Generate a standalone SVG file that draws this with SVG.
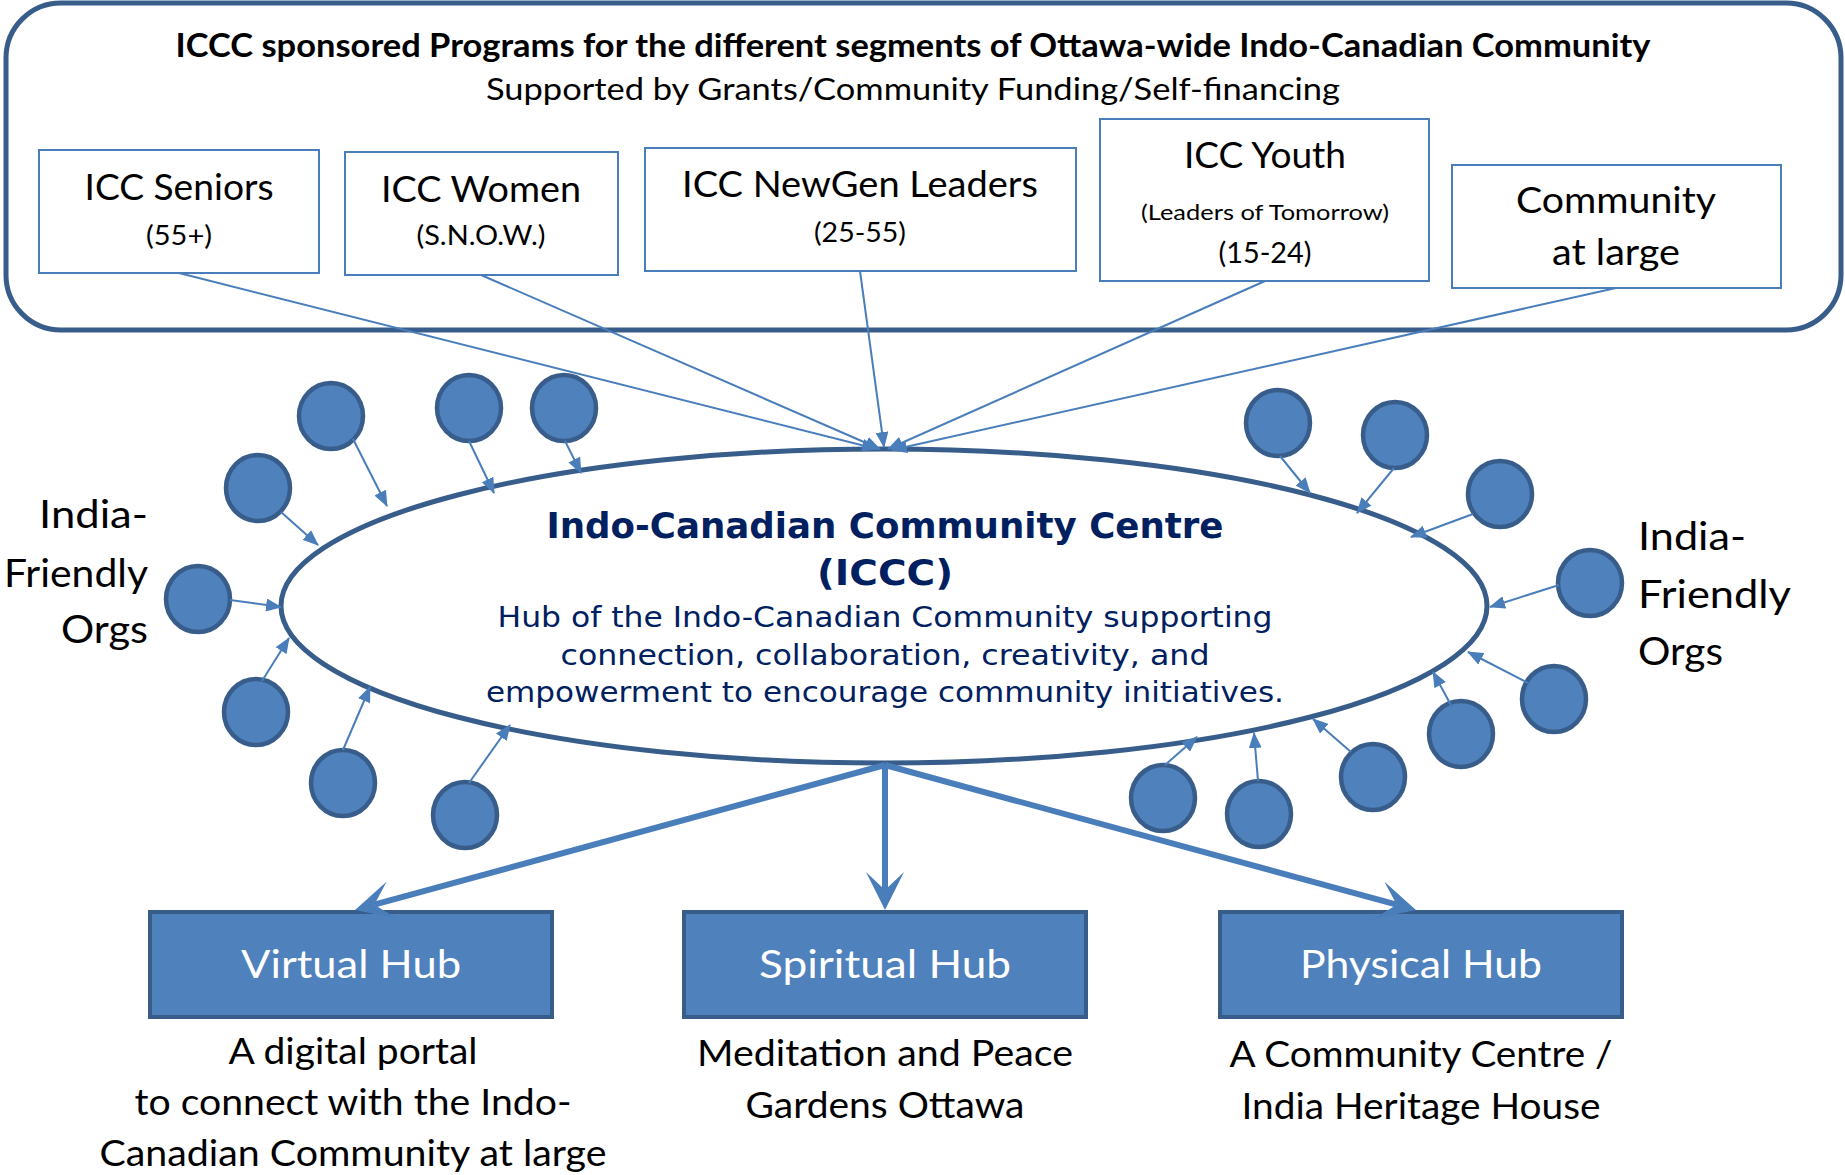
<svg xmlns="http://www.w3.org/2000/svg" width="1845" height="1175" viewBox="0 0 1845 1175">
<style>
.cal{font-family:Lato,"Liberation Sans",sans-serif;fill:#000}
.c{text-anchor:middle}
.gth{font-family:"DejaVu Sans","Liberation Sans",sans-serif;fill:#002060;text-anchor:middle}
.prog{fill:#fff;stroke:#4A7EBB;stroke-width:2}
.org{fill:#4F81BD;stroke:#385D8A;stroke-width:4.5}
.hub{fill:#4F81BD;stroke:#385D8A;stroke-width:4}
.thin{stroke:#4A7EBB;stroke-width:2;fill:none;marker-end:url(#ah)}
.thick{stroke:#4A7EBB;stroke-width:6;fill:none;marker-end:url(#big)}
.hubt{font-family:Lato,"Liberation Sans",sans-serif;fill:#fff;text-anchor:middle;font-size:39px}
</style>
<defs>
<marker id="ah" markerUnits="userSpaceOnUse" markerWidth="16" markerHeight="13" refX="15" refY="6.5" orient="auto">
<path d="M0,0 L16,6.5 L0,13 z" fill="#4A7EBB"/>
</marker>
<marker id="big" markerUnits="userSpaceOnUse" markerWidth="38" markerHeight="38" refX="18" refY="19" orient="auto">
<path d="M0,0 L38,19 L0,38 L18,19 z" fill="#4A7EBB"/>
</marker>
</defs>
<rect width="1845" height="1175" fill="#fff"/>

<g id="programs">
<rect x="6" y="3" width="1835" height="327" rx="55" ry="55" fill="#fff" stroke="#385D8A" stroke-width="5"/>
<text class="cal c" x="913" y="57" font-size="32" font-weight="bold" textLength="1475" lengthAdjust="spacingAndGlyphs">ICCC sponsored Programs for the different segments of Ottawa-wide Indo-Canadian Community</text>
<text class="cal c" x="913" y="100" font-size="30" textLength="854" lengthAdjust="spacingAndGlyphs">Supported by Grants/Community Funding/Self-financing</text>
</g>

<g id="seniors">
<rect class="prog" x="39" y="150" width="280" height="123"/>
<text class="cal c" x="179" y="200" font-size="36" textLength="189" lengthAdjust="spacingAndGlyphs">ICC Seniors</text>
<text class="cal c" x="179" y="245" font-size="26" textLength="66" lengthAdjust="spacingAndGlyphs">(55+)</text>
</g>
<g id="women">
<rect class="prog" x="345" y="152" width="273" height="123"/>
<text class="cal c" x="481" y="202" font-size="36" textLength="200" lengthAdjust="spacingAndGlyphs">ICC Women</text>
<text class="cal c" x="481" y="245" font-size="26" textLength="129" lengthAdjust="spacingAndGlyphs">(S.N.O.W.)</text>
</g>
<g id="newgen">
<rect class="prog" x="645" y="148" width="431" height="123"/>
<text class="cal c" x="860" y="197" font-size="36" textLength="356" lengthAdjust="spacingAndGlyphs">ICC NewGen Leaders</text>
<text class="cal c" x="860" y="242" font-size="26" textLength="92" lengthAdjust="spacingAndGlyphs">(25-55)</text>
</g>
<g id="youth">
<rect class="prog" x="1100" y="119" width="329" height="162"/>
<text class="cal c" x="1265" y="168" font-size="36" textLength="162" lengthAdjust="spacingAndGlyphs">ICC Youth</text>
<text class="cal c" x="1265" y="220" font-size="22" textLength="248" lengthAdjust="spacingAndGlyphs">(Leaders of Tomorrow)</text>
<text class="cal c" x="1265" y="263" font-size="28" textLength="93" lengthAdjust="spacingAndGlyphs">(15-24)</text>
</g>
<g id="community">
<rect class="prog" x="1452" y="165" width="329" height="123"/>
<text class="cal c" x="1616" y="213" font-size="36" textLength="200" lengthAdjust="spacingAndGlyphs">Community</text>
<text class="cal c" x="1616" y="265" font-size="36" textLength="128" lengthAdjust="spacingAndGlyphs">at large</text>
</g>

<g id="iccc">
<ellipse cx="884" cy="606" rx="603" ry="157" fill="#fff" stroke="#385D8A" stroke-width="5"/>
<text class="gth" x="885" y="538" font-size="36" font-weight="bold" textLength="677" lengthAdjust="spacingAndGlyphs">Indo-Canadian Community Centre</text>
<text class="gth" x="885" y="585" font-size="36" font-weight="bold" textLength="136" lengthAdjust="spacingAndGlyphs">(ICCC)</text>
<text class="gth" x="885" y="627" font-size="28" textLength="775" lengthAdjust="spacingAndGlyphs">Hub of the Indo-Canadian Community supporting</text>
<text class="gth" x="885" y="665" font-size="28" textLength="649" lengthAdjust="spacingAndGlyphs">connection, collaboration, creativity, and</text>
<text class="gth" x="885" y="702" font-size="28" textLength="798" lengthAdjust="spacingAndGlyphs">empowerment to encourage community initiatives.</text>
</g>

<g id="orgs-left">
<ellipse class="org" cx="331" cy="416" rx="32" ry="33"/>
<ellipse class="org" cx="258" cy="488" rx="32" ry="33"/>
<ellipse class="org" cx="198" cy="599" rx="32" ry="33"/>
<ellipse class="org" cx="256" cy="712" rx="32" ry="33"/>
<ellipse class="org" cx="343" cy="783" rx="32" ry="33"/>
<ellipse class="org" cx="465" cy="815" rx="32" ry="33"/>
<ellipse class="org" cx="469" cy="408" rx="32" ry="33"/>
<ellipse class="org" cx="564" cy="408" rx="32" ry="33"/>
<text class="cal" text-anchor="end" font-size="39" x="148" y="528" textLength="109" lengthAdjust="spacingAndGlyphs">India-</text>
<text class="cal" text-anchor="end" font-size="39" x="148" y="587" textLength="144" lengthAdjust="spacingAndGlyphs">Friendly</text>
<text class="cal" text-anchor="end" font-size="39" x="148" y="643" textLength="87" lengthAdjust="spacingAndGlyphs">Orgs</text>
</g>

<g id="orgs-right">
<ellipse class="org" cx="1278" cy="423" rx="32" ry="33"/>
<ellipse class="org" cx="1395" cy="435" rx="32" ry="33"/>
<ellipse class="org" cx="1500" cy="494" rx="32" ry="33"/>
<ellipse class="org" cx="1590" cy="583" rx="32" ry="33"/>
<ellipse class="org" cx="1554" cy="699" rx="32" ry="33"/>
<ellipse class="org" cx="1461" cy="734" rx="32" ry="33"/>
<ellipse class="org" cx="1373" cy="777" rx="32" ry="33"/>
<ellipse class="org" cx="1259" cy="814" rx="32" ry="33"/>
<ellipse class="org" cx="1163" cy="798" rx="32" ry="33"/>
<text class="cal" font-size="39" x="1638" y="550" textLength="108" lengthAdjust="spacingAndGlyphs">India-</text>
<text class="cal" font-size="39" x="1638" y="608" textLength="153" lengthAdjust="spacingAndGlyphs">Friendly</text>
<text class="cal" font-size="39" x="1638" y="665" textLength="85" lengthAdjust="spacingAndGlyphs">Orgs</text>
</g>

<g id="virtual-hub">
<rect class="hub" x="150" y="912" width="402" height="105"/>
<text class="hubt" x="351" y="978" textLength="220" lengthAdjust="spacingAndGlyphs">Virtual Hub</text>
<text class="cal c" font-size="36" x="353" y="1064" textLength="249" lengthAdjust="spacingAndGlyphs">A digital portal</text>
<text class="cal c" font-size="36" x="353" y="1115" textLength="437" lengthAdjust="spacingAndGlyphs">to connect with the Indo-</text>
<text class="cal c" font-size="36" x="353" y="1166" textLength="507" lengthAdjust="spacingAndGlyphs">Canadian Community at large</text>
</g>
<g id="spiritual-hub">
<rect class="hub" x="684" y="912" width="402" height="105"/>
<text class="hubt" x="885" y="978" textLength="252" lengthAdjust="spacingAndGlyphs">Spiritual Hub</text>
<text class="cal c" font-size="36" x="885" y="1066" textLength="376" lengthAdjust="spacingAndGlyphs">Meditation and Peace</text>
<text class="cal c" font-size="36" x="885" y="1118" textLength="279" lengthAdjust="spacingAndGlyphs">Gardens Ottawa</text>
</g>
<g id="physical-hub">
<rect class="hub" x="1220" y="912" width="402" height="105"/>
<text class="hubt" x="1421" y="978" textLength="242" lengthAdjust="spacingAndGlyphs">Physical Hub</text>
<text class="cal c" font-size="36" x="1421" y="1067" textLength="383" lengthAdjust="spacingAndGlyphs">A Community Centre /</text>
<text class="cal c" font-size="36" x="1421" y="1119" textLength="359" lengthAdjust="spacingAndGlyphs">India Heritage House</text>
</g>

<g id="connectors">
<line class="thin" x1="179" y1="273" x2="877" y2="449"/>
<line class="thin" x1="481" y1="275" x2="880" y2="449"/>
<line class="thin" x1="860" y1="271" x2="884" y2="447"/>
<line class="thin" x1="1265" y1="281" x2="888" y2="449"/>
<line class="thin" x1="1616" y1="288" x2="892" y2="450"/>

<line class="thin" x1="353" y1="439" x2="387" y2="506"/>
<line class="thin" x1="281" y1="512" x2="318" y2="545"/>
<line class="thin" x1="230" y1="600" x2="281" y2="607"/>
<line class="thin" x1="262" y1="681" x2="289" y2="638"/>
<line class="thin" x1="343" y1="750" x2="370" y2="687"/>
<line class="thin" x1="469" y1="783" x2="510" y2="725"/>
<line class="thin" x1="469" y1="441" x2="494" y2="493"/>
<line class="thin" x1="565" y1="441" x2="581" y2="473"/>

<line class="thin" x1="1280" y1="456" x2="1310" y2="493"/>
<line class="thin" x1="1394" y1="468" x2="1357" y2="513"/>
<line class="thin" x1="1473" y1="514" x2="1411" y2="537"/>
<line class="thin" x1="1559" y1="585" x2="1490" y2="607"/>
<line class="thin" x1="1528" y1="683" x2="1468" y2="652"/>
<line class="thin" x1="1452" y1="707" x2="1433" y2="672"/>
<line class="thin" x1="1351" y1="752" x2="1313" y2="719"/>
<line class="thin" x1="1258" y1="781" x2="1254" y2="733"/>
<line class="thin" x1="1165" y1="765" x2="1197" y2="737"/>

<line class="thick" x1="885" y1="765" x2="374.3" y2="904.7"/>
<line class="thick" x1="885" y1="765" x2="885" y2="890"/>
<line class="thick" x1="885" y1="765" x2="1396.7" y2="904.7"/>
</g>
</svg>
